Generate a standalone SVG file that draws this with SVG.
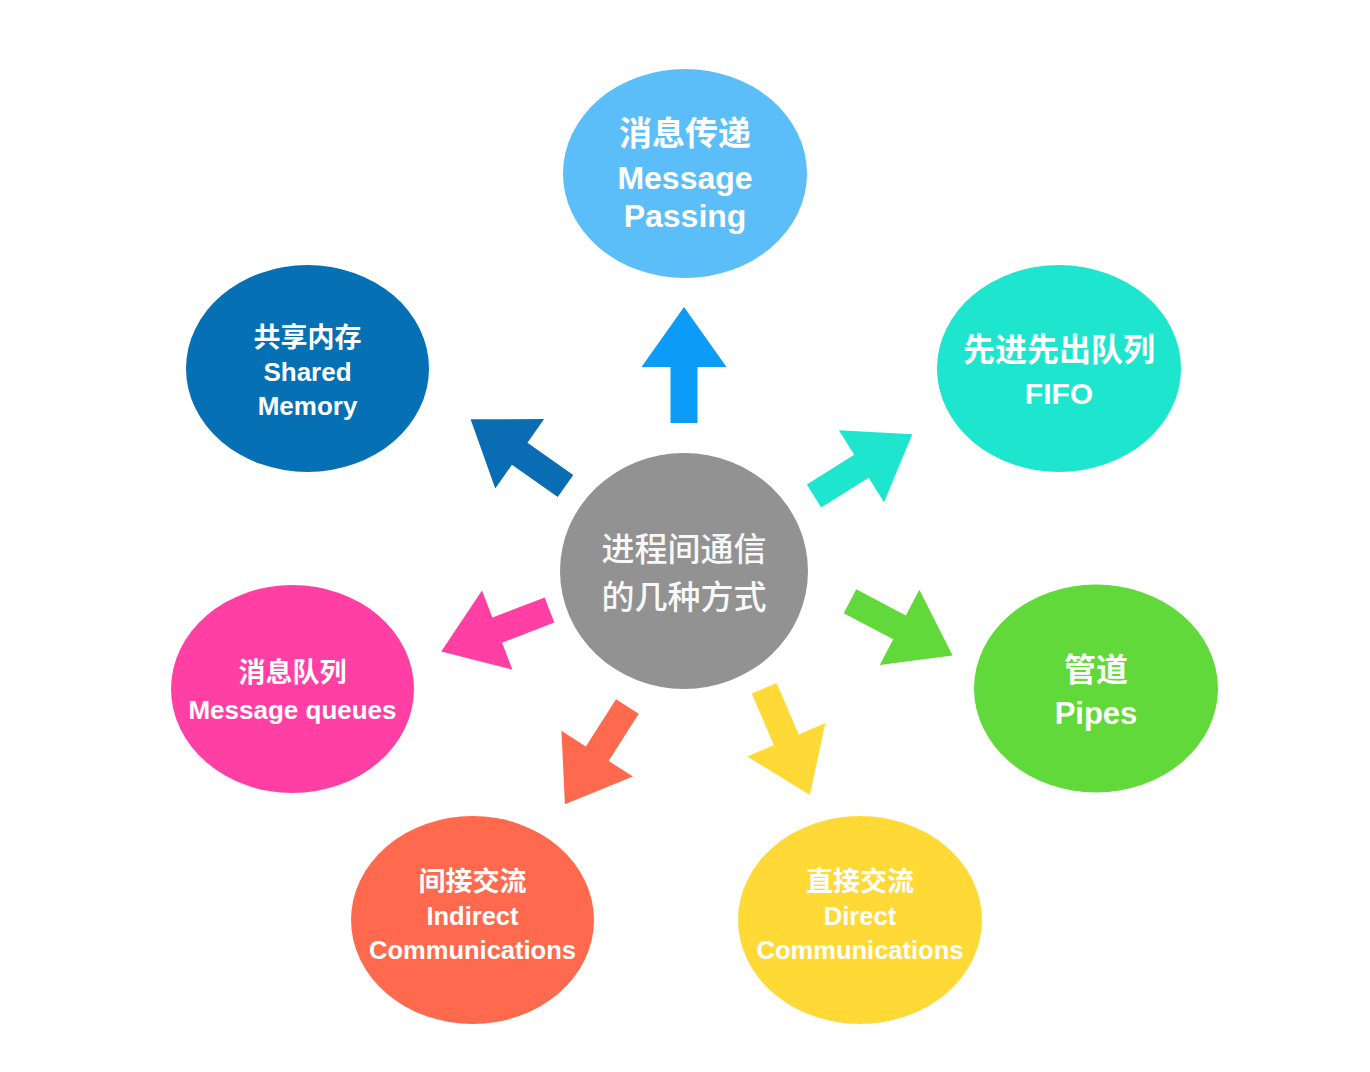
<svg xmlns="http://www.w3.org/2000/svg" xmlns:xlink="http://www.w3.org/1999/xlink" width="1370" height="1072" viewBox="0 0 1370 1072">
<style>
.en{font-family:"Liberation Sans","Noto Sans CJK SC",sans-serif;font-weight:700;fill:#fff;text-anchor:middle}
.zh{font-family:"Noto Sans CJK SC","Liberation Sans",sans-serif;font-weight:700;fill:#fff;text-anchor:middle}
.ctr{font-family:"Noto Sans CJK SC","Liberation Sans",sans-serif;font-weight:500;fill:#f8f8f8;text-anchor:middle;font-size:33px}
</style>
<defs>
<path id="arr" d="M0,-13.5 H56 V-42.5 L116,0 L56,42.5 V13.5 H0 Z"/>
</defs>
<rect width="1370" height="1072" fill="#fff"/>
<g id="connectors">
<use xlink:href="#arr" href="#arr" fill="#0C9BF6" transform="translate(684,423) rotate(-90)"/>
<use xlink:href="#arr" href="#arr" fill="#0A6DB3" transform="translate(565.5,486) rotate(-144.9)"/>
<use xlink:href="#arr" href="#arr" fill="#1DE5CE" transform="translate(814,496) rotate(-32.1)"/>
<use xlink:href="#arr" href="#arr" fill="#FF3FA3" transform="translate(549.5,610) rotate(159)"/>
<use xlink:href="#arr" href="#arr" fill="#62D93B" transform="translate(850,601.3) rotate(27.8)"/>
<use xlink:href="#arr" href="#arr" fill="#FF6A4E" transform="translate(627.4,706.5) rotate(122.6)"/>
<use xlink:href="#arr" href="#arr" fill="#FFD935" transform="translate(764.2,688.3) rotate(66.8)"/>
</g>
<g id="center">
<ellipse cx="684" cy="571" rx="124" ry="118" fill="#929292"/>
<text class="ctr" x="684" y="560.5">进程间通信</text>
<text class="ctr" x="684" y="608.5">的几种方式</text>
</g>
<g id="message-passing">
<ellipse cx="685" cy="173.5" rx="122" ry="104.5" fill="#5BBEF8"/>
<text class="zh" x="685" y="145" font-size="33">消息传递</text>
<text class="en" x="685" y="188.5" font-size="32">Message</text>
<text class="en" x="685" y="227" font-size="32">Passing</text>
</g>
<g id="shared-memory">
<ellipse cx="307.5" cy="368.5" rx="121.5" ry="103.5" fill="#0670B5"/>
<text class="zh" x="307.5" y="347" font-size="27">共享内存</text>
<text class="en" x="307.5" y="381" font-size="26">Shared</text>
<text class="en" x="307.5" y="415" font-size="26">Memory</text>
</g>
<g id="fifo">
<ellipse cx="1059" cy="368.5" rx="122" ry="103.5" fill="#1DE5CE"/>
<text class="zh" x="1059" y="361" font-size="32">先进先出队列</text>
<text class="en" x="1059" y="404" font-size="30">FIFO</text>
</g>
<g id="message-queues">
<ellipse cx="292.5" cy="689" rx="121.5" ry="104" fill="#FF3FA3"/>
<text class="zh" x="292.5" y="681.5" font-size="27">消息队列</text>
<text class="en" x="292.5" y="718.5" font-size="26">Message queues</text>
</g>
<g id="pipes">
<ellipse cx="1096" cy="688.5" rx="122" ry="104" fill="#62D93B"/>
<text class="zh" x="1096" y="680.5" font-size="32">管道</text>
<text class="en" x="1096" y="723.5" font-size="31">Pipes</text>
</g>
<g id="indirect">
<ellipse cx="472.5" cy="920" rx="121.5" ry="104" fill="#FF6A4E"/>
<text class="zh" x="472.5" y="891" font-size="27">间接交流</text>
<text class="en" x="472.5" y="925" font-size="25.5">Indirect</text>
<text class="en" x="472.5" y="958.5" font-size="25.5">Communications</text>
</g>
<g id="direct">
<ellipse cx="860" cy="920" rx="122" ry="104" fill="#FFD935"/>
<text class="zh" x="860" y="891" font-size="27">直接交流</text>
<text class="en" x="860" y="925" font-size="25.5">Direct</text>
<text class="en" x="860" y="958.5" font-size="25.5">Communications</text>
</g>
</svg>
